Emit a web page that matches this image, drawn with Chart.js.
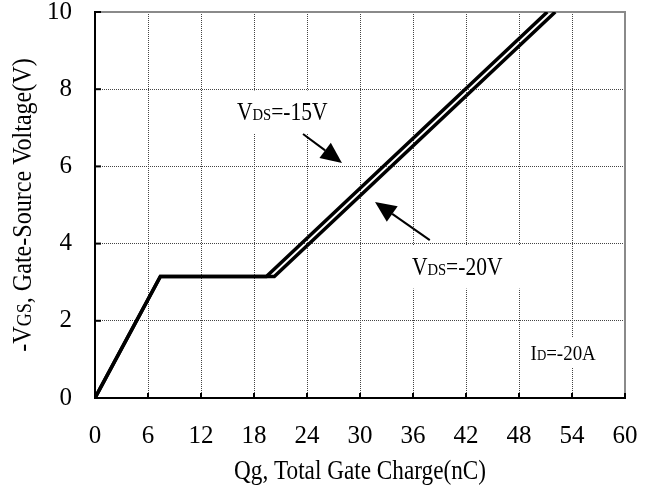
<!DOCTYPE html>
<html>
<head>
<meta charset="utf-8">
<script src="https://cdn.jsdelivr.net/npm/chart.js@4.4.0/dist/chart.umd.min.js"></script>
<style>
  html, body { margin: 0; padding: 0; background: #fff; }
</style>
</head>
<body>
<canvas id="myChart" width="647" height="486"></canvas>
<script>
// data
const qgTicks = [0, 6, 12, 18, 24, 30, 36, 42, 48, 54, 60];
const vgsTicks = [0, 2, 4, 6, 8, 10];
const qgVds15 = [0, 7.4, 19.4, 51.2];
const vgsVds15 = [0, 3.15, 3.15, 10];
const qgVds20 = [0, 7.4, 20.3, 52.1];
const vgsVds20 = [0, 3.15, 3.15, 10];

const SERIF = "'Liberation Serif', 'Times New Roman', serif";
const NARROW = 0.86; // the original font is a narrow Times

// annotation texts (data coords for centre, box in px)
const notes = [
    { at: [21.2, 7.41], parts: [['V', 25], ['DS', 17], ['=-15V', 25]], box: [108, 43] },
    { at: [41.0, 3.39], parts: [['V', 25], ['DS', 17], ['=-20V', 25]], box: [130, 43] },
    { at: [53.0, 1.17], parts: [['I', 22], ['D', 15], ['=-20A', 22]], box: [74, 30] }
];
// arrows: tail -> tip, in data coords
const arrows = [
    { from: [23.55, 6.84], to: [27.96, 6.09] },
    { from: [37.9, 4.09], to: [31.7, 5.08] }
];

function toXY(pts, vals) {
    return pts.map((q, i) => ({ x: q, y: vals[i] }));
}

function drawRich(ctx, parts, cx, cy, rotate) {
    let w = 0;
    parts.forEach(p => { ctx.font = p[1] + 'px ' + SERIF; w += ctx.measureText(p[0]).width; });
    const big = Math.max(...parts.map(p => p[1]));
    ctx.save();
    ctx.translate(cx, cy);
    if (rotate) ctx.rotate(-Math.PI / 2);
    ctx.scale(NARROW, 1);
    ctx.textBaseline = 'alphabetic';
    ctx.textAlign = 'left';
    ctx.fillStyle = '#000';
    let x = -w / 2;
    parts.forEach(p => {
        ctx.font = p[1] + 'px ' + SERIF;
        ctx.fillText(p[0], x, big * 0.33);
        x += ctx.measureText(p[0]).width;
    });
    ctx.restore();
}

const decor = {
    id: 'decor',
    beforeDatasetsDraw(chart) {
        const { ctx, chartArea: a, scales: { x, y } } = chart;
        ctx.save();
        // grey top / right frame
        ctx.strokeStyle = '#8a8a8a';
        ctx.lineWidth = 2;
        ctx.beginPath();
        ctx.moveTo(a.left, a.top);
        ctx.lineTo(a.right, a.top);
        ctx.lineTo(a.right, a.bottom);
        ctx.stroke();
        // inward ticks
        ctx.strokeStyle = '#000';
        ctx.lineWidth = 2;
        qgTicks.forEach(v => {
            const px = x.getPixelForValue(v);
            ctx.beginPath(); ctx.moveTo(px, a.bottom); ctx.lineTo(px, a.bottom - 5); ctx.stroke();
        });
        vgsTicks.forEach(v => {
            const py = y.getPixelForValue(v);
            ctx.beginPath(); ctx.moveTo(a.left, py); ctx.lineTo(a.left + 6, py); ctx.stroke();
        });
        // labels on white boxes
        notes.forEach(n => {
            const cx = x.getPixelForValue(n.at[0]);
            const cy = y.getPixelForValue(n.at[1]);
            ctx.fillStyle = '#fff';
            ctx.fillRect(cx - n.box[0] / 2, cy - n.box[1] / 2, n.box[0], n.box[1]);
            drawRich(ctx, n.parts, cx, cy, false);
        });
        ctx.restore();
    },
    afterDatasetsDraw(chart) {
        const { ctx, scales: { x, y } } = chart;
        ctx.save();
        ctx.strokeStyle = '#000';
        ctx.fillStyle = '#000';
        ctx.lineWidth = 2;
        arrows.forEach(ar => {
            const x1 = x.getPixelForValue(ar.from[0]), y1 = y.getPixelForValue(ar.from[1]);
            const x2 = x.getPixelForValue(ar.to[0]), y2 = y.getPixelForValue(ar.to[1]);
            const ang = Math.atan2(y2 - y1, x2 - x1);
            const len = 21, half = 9.5;
            const bx = x2 - len * Math.cos(ang), by = y2 - len * Math.sin(ang);
            ctx.beginPath(); ctx.moveTo(x1, y1); ctx.lineTo(bx, by); ctx.stroke();
            ctx.beginPath();
            ctx.moveTo(x2, y2);
            ctx.lineTo(bx + half * Math.sin(ang), by - half * Math.cos(ang));
            ctx.lineTo(bx - half * Math.sin(ang), by + half * Math.cos(ang));
            ctx.closePath();
            ctx.fill();
        });
        ctx.restore();
    },
    afterDraw(chart) {
        const { ctx, chartArea: a } = chart;
        drawRich(ctx, [['Qg, Total Gate Charge(nC)', 27]], (a.left + a.right) / 2, 470, false);
        drawRich(ctx, [['-V', 28], ['GS', 21], [', Gate-Source Voltage(V)', 28]], 22, (a.top + a.bottom) / 2, true);
    }
};

const gridStyle = { color: '#444', lineWidth: 1, drawTicks: false };

const ctx = document.getElementById('myChart').getContext('2d');
const myChart = new Chart(ctx, {
    type: 'line',
    data: {
        datasets: [
            {
                label: 'VDS=-15V',
                data: toXY(qgVds15, vgsVds15),
                borderColor: '#000',
                borderWidth: 3.5,
                pointRadius: 0,
                tension: 0,
                fill: false
            },
            {
                label: 'VDS=-20V',
                data: toXY(qgVds20, vgsVds20),
                borderColor: '#000',
                borderWidth: 3.5,
                pointRadius: 0,
                tension: 0,
                fill: false
            }
        ]
    },
    options: {
        responsive: false,
        animation: false,
        layout: { padding: { top: 12, right: 22, left: 0, bottom: 0 } },
        plugins: {
            legend: { display: false },
            tooltip: { enabled: false }
        },
        scales: {
            x: {
                type: 'linear',
                min: 0,
                max: 60,
                afterBuildTicks: s => { s.ticks = qgTicks.map(v => ({ value: v })); },
                afterFit: s => { s.height = 88; s.paddingLeft = 0; s.paddingRight = 0; },
                grid: gridStyle,
                border: { display: true, color: '#000', width: 2, dash: [1, 1] },
                ticks: { padding: 23, color: '#000', maxRotation: 0, font: { family: SERIF, size: 25 } }
            },
            y: {
                min: 0,
                max: 10,
                afterBuildTicks: s => { s.ticks = vgsTicks.map(v => ({ value: v })); },
                afterFit: s => { s.width = 95; s.paddingTop = 0; s.paddingBottom = 0; },
                grid: gridStyle,
                border: { display: true, color: '#000', width: 2, dash: [1, 1] },
                ticks: { padding: 23, color: '#000', font: { family: SERIF, size: 25 } }
            }
        }
    },
    plugins: [decor]
});
</script>
</body>
</html>
